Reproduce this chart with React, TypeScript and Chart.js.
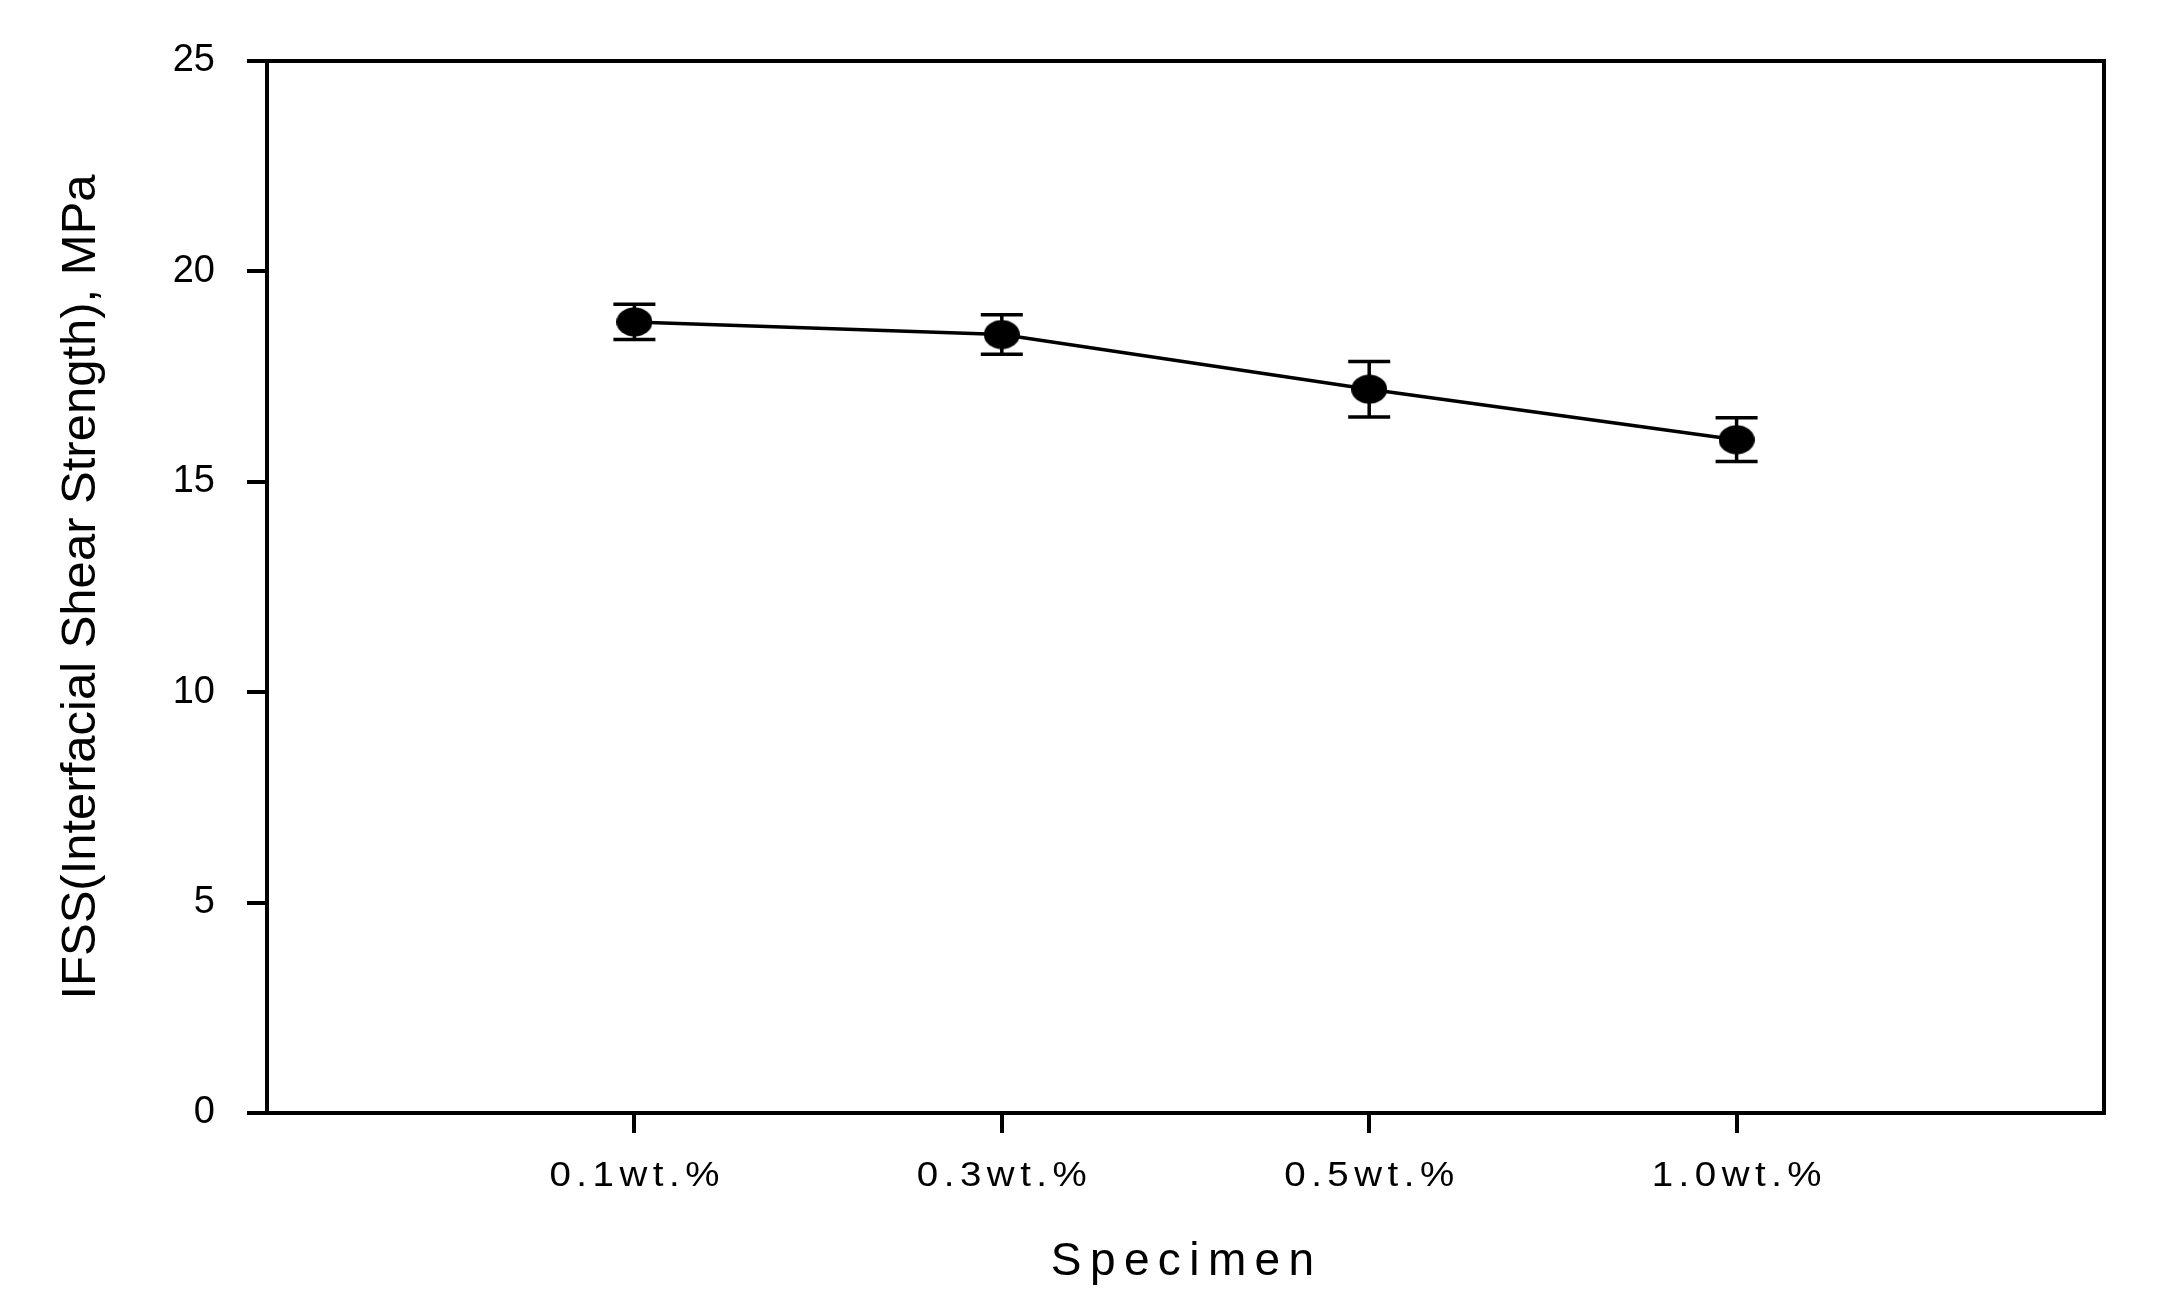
import React, { useEffect, useRef } from "react";
import { Chart, registerables } from "chart.js";

Chart.register(...registerables);

const categories = ["0.1wt.%", "0.3wt.%", "0.5wt.%", "1.0wt.%"];
const positions = [1, 2, 3, 4];
const ifss = [18.8, 18.5, 17.2, 16.0];
const errors = [0.42, 0.47, 0.66, 0.52];
const yTicks = [0, 5, 10, 15, 20, 25];
const xTitle = "Specimen";
const yTitle = "IFSS(Interfacial Shear Strength), MPa";

const FONT = '"Liberation Sans", Arial, Helvetica, sans-serif';

const decorPlugin = {
  id: "decor",
  beforeDatasetsDraw(chart: any) {
    const { ctx, scales } = chart;
    const x = scales.x;
    const y = scales.y;
    ctx.save();
    ctx.strokeStyle = "#000";
    ctx.lineWidth = 3.5;
    ctx.lineCap = "butt";
    positions.forEach((p, i) => {
      const px = x.getPixelForValue(p);
      const top = y.getPixelForValue(ifss[i] + errors[i]);
      const bot = y.getPixelForValue(ifss[i] - errors[i]);
      ctx.beginPath();
      ctx.moveTo(px, top);
      ctx.lineTo(px, bot);
      ctx.moveTo(px - 21, top);
      ctx.lineTo(px + 21, top);
      ctx.moveTo(px - 21, bot);
      ctx.lineTo(px + 21, bot);
      ctx.stroke();
    });
    ctx.restore();
  },
  afterDraw(chart: any) {
    const { ctx, chartArea: a, scales } = chart;
    const x = scales.x;
    ctx.save();
    ctx.strokeStyle = "#000";
    ctx.lineWidth = 4;
    ctx.lineJoin = "miter";
    ctx.beginPath();
    ctx.moveTo(a.left, a.top);
    ctx.lineTo(a.right, a.top);
    ctx.lineTo(a.right, a.bottom + 2);
    ctx.stroke();

    ctx.fillStyle = "#000";
    ctx.textBaseline = "alphabetic";
    ctx.textAlign = "left";
    ctx.font = `35px ${FONT}`;
    const ls = 5;
    const sx = 1.1;
    (ctx as any).letterSpacing = `${ls}px`;
    x.ticks.forEach((t: any) => {
      const idx = positions.indexOf(t.value);
      if (idx < 0) return;
      const label = categories[idx];
      const w = ctx.measureText(label).width - ls;
      const cx = x.getPixelForValue(t.value);
      ctx.save();
      ctx.translate(cx, a.bottom + 72.5);
      ctx.scale(sx, 1);
      ctx.fillText(label, -w / 2, 0);
      ctx.restore();
    });

    const ls2 = 8.4;
    ctx.font = `46px ${FONT}`;
    (ctx as any).letterSpacing = `${ls2}px`;
    const tw = ctx.measureText(xTitle).width - ls2;
    const tcx = (a.left + a.right) / 2 - 3;
    ctx.fillText(xTitle, tcx - tw / 2, a.bottom + 161.5);
    (ctx as any).letterSpacing = "0px";
    ctx.restore();
  },
};

export default function App() {
  const canvasRef = useRef<HTMLCanvasElement | null>(null);

  useEffect(() => {
    const canvas = canvasRef.current;
    if (!canvas) return;

    const marker = document.createElement("canvas");
    marker.width = 36;
    marker.height = 30;
    const mctx = marker.getContext("2d");
    if (mctx) {
      mctx.fillStyle = "#000";
      mctx.beginPath();
      mctx.ellipse(18, 15, 18, 14.5, 0, 0, Math.PI * 2);
      mctx.fill();
    }

    const gridOpts = {
      drawOnChartArea: false,
      drawTicks: true,
      tickLength: 20,
      lineWidth: 4,
      tickWidth: 4,
      color: "#000",
      tickColor: "#000",
    };
    const borderOpts = { display: true, color: "#000", width: 4 };

    const chart = new Chart(canvas, {
      type: "line",
      data: {
        datasets: [
          {
            data: positions.map((p, i) => ({ x: p, y: ifss[i] })),
            borderColor: "#000",
            backgroundColor: "#000",
            borderWidth: 3.5,
            tension: 0,
            pointStyle: marker as any,
            pointRadius: 16,
            pointHoverRadius: 16,
          },
        ],
      },
      options: {
        animation: false,
        responsive: false,
        events: [],
        layout: { padding: { top: 61, right: 53, left: 0, bottom: 0 } },
        plugins: {
          legend: { display: false },
          tooltip: { enabled: false },
        },
        scales: {
          x: {
            type: "linear",
            min: 0,
            max: 5,
            afterBuildTicks: (s: any) => {
              s.ticks = positions.map((v) => ({ value: v }));
            },
            afterFit: (s: any) => {
              s.height = 197;
            },
            grid: gridOpts as any,
            border: borderOpts as any,
            ticks: { display: false },
          },
          y: {
            type: "linear",
            min: 0,
            max: 25,
            afterBuildTicks: (s: any) => {
              s.ticks = yTicks.map((v) => ({ value: v }));
            },
            afterFit: (s: any) => {
              s.width = 267;
            },
            grid: gridOpts as any,
            border: borderOpts as any,
            ticks: {
              color: "#000",
              padding: 32,
              font: { family: FONT, size: 38 },
            },
            title: {
              display: true,
              text: yTitle,
              color: "#000",
              font: { family: FONT, size: 49 },
              padding: { top: 52, bottom: 0 },
            },
          },
        },
      },
      plugins: [decorPlugin],
    });

    return () => {
      chart.destroy();
    };
  }, []);

  return (
    <div
      style={{
        position: "fixed",
        left: 0,
        top: 0,
        width: 2157,
        height: 1310,
        background: "#fff",
      }}
    >
      <canvas
        ref={canvasRef}
        width={2157}
        height={1310}
        style={{ display: "block", width: 2157, height: 1310 }}
      />
    </div>
  );
}
